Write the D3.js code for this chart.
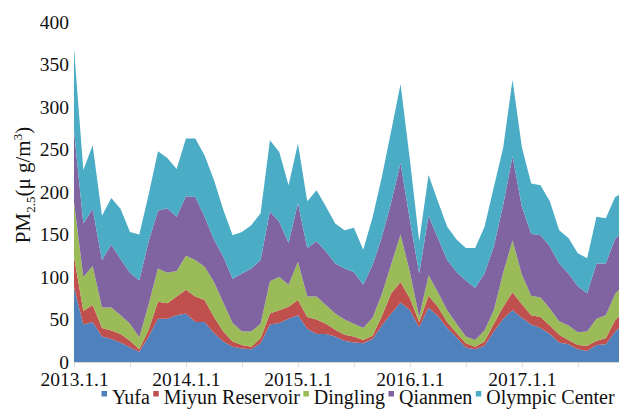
<!DOCTYPE html>
<html>
<head>
<meta charset="utf-8">
<script src="https://cdn.jsdelivr.net/npm/d3@7"></script>
<style>
  html, body { margin: 0; padding: 0; background: #fff; }
  svg { display: block; }
  text { font-family: "Liberation Serif", "Times New Roman", serif; fill: #111; }
</style>
</head>
<body>
<svg id="chart" width="619" height="416"></svg>
<script>
// Monthly PM2.5 concentrations at five Beijing monitoring stations
const months = [
  "2013-01","2013-02","2013-03","2013-04","2013-05","2013-06","2013-07","2013-08","2013-09","2013-10","2013-11","2013-12",
  "2014-01","2014-02","2014-03","2014-04","2014-05","2014-06","2014-07","2014-08","2014-09","2014-10","2014-11","2014-12",
  "2015-01","2015-02","2015-03","2015-04","2015-05","2015-06","2015-07","2015-08","2015-09","2015-10","2015-11","2015-12",
  "2016-01","2016-02","2016-03","2016-04","2016-05","2016-06","2016-07","2016-08","2016-09","2016-10","2016-11","2016-12",
  "2017-01","2017-02","2017-03","2017-04","2017-05","2017-06","2017-07","2017-08","2017-09","2017-10","2017-11","2017-12"
];

const seriesNames = ["Yufa", "Miyun Reservoir", "Dingling", "Qianmen", "Olympic Center"];

const yufa = [88,44,47,30,27,23,17,12,30,51,51,55, 57,47,47,34,24,18,16,15,22,44,46,51,
              55,39,33,33,30,25,23,22,27,43,57,70, 61,41,64,54,40,29,17,15,19,36,51,61,
              52,44,40,33,23,21,15,13,20,21,36,45];
const miyun = [36,16,20,10,10,10,8,3,8,20,18,22, 28,30,26,19,12,6,4,3,6,13,15,14,
               18,14,17,12,8,7,7,4,4,11,24,24, 14,6,14,11,7,5,5,3,5,9,14,21,
               16,11,13,10,9,5,5,6,5,7,13,15];
const dingling = [64,40,46,24,27,22,20,14,30,39,36,30, 40,43,39,41,34,22,16,18,17,38,39,26,
                  45,24,27,22,19,18,15,14,21,26,34,56, 31,6,24,17,14,11,8,8,13,16,40,61,
                  35,23,23,20,16,17,15,17,26,27,31,32];
const qianmen = [84,63,67,56,74,66,60,67,74,68,76,64, 70,74,59,50,54,52,68,74,75,82,65,49,
                 69,57,65,63,59,60,61,51,62,67,73,84, 61,51,70,64,59,61,66,61,67,75,80,99,
                 80,73,73,73,68,61,54,45,65,61,65,63];
const olympic = [97,63,75,52,55,59,48,54,55,70,59,56, 68,69,72,70,55,51,49,51,55,84,82,68,
                 70,55,60,53,47,45,52,41,56,71,84,93, 71,38,48,43,39,38,38,47,55,70,67,90,
                 70,59,59,53,39,42,39,41,55,53,49,45];

const yTicks = [0, 50, 100, 150, 200, 250, 300, 350, 400];
const xTickLabels = ["2013.1.1", "2014.1.1", "2015.1.1", "2016.1.1", "2017.1.1"];

const colors = ["#4F81BD", "#C0504D", "#9BBB59", "#8064A2", "#4BACC6"];

// Layout
const plotLeft = 74, monthStep = 9.33, plotTop = 22, plotBottom = 362;

const svg = d3.select("#chart");

const rows = months.map((m, i) => ({
  month: m,
  "Yufa": yufa[i],
  "Miyun Reservoir": miyun[i],
  "Dingling": dingling[i],
  "Qianmen": qianmen[i],
  "Olympic Center": olympic[i]
}));

const x = d3.scaleLinear()
  .domain([0, months.length - 1])
  .range([plotLeft, plotLeft + monthStep * (months.length - 1)]);

const y = d3.scaleLinear()
  .domain([0, 400])
  .range([plotBottom, plotTop]);

const color = d3.scaleOrdinal().domain(seriesNames).range(colors);

const stacked = d3.stack().keys(seriesNames)(rows);

const area = d3.area()
  .x((d, i) => x(i))
  .y0(d => y(d[0]))
  .y1(d => y(d[1]));

svg.append("g")
  .selectAll("path")
  .data(stacked)
  .join("path")
  .attr("fill", d => color(d.key))
  .attr("d", area);

// X axis: tick marks every half year, labels each January
const halfYearIdx = months.map((m, i) => i).filter(i => /-(01|07)$/.test(months[i]));
const labelByIdx = new Map(xTickLabels.map(lbl => {
  const p = lbl.split(".");
  const key = p[0] + "-" + String(p[1]).padStart(2, "0");
  return [months.indexOf(key), lbl];
}));

const xAxis = svg.append("g")
  .attr("transform", `translate(0,${plotBottom})`)
  .call(d3.axisBottom(x)
    .tickValues(halfYearIdx)
    .tickSize(5)
    .tickSizeOuter(0)
    .tickPadding(5)
    .tickFormat(i => labelByIdx.get(i) || ""));
xAxis.select(".domain").attr("stroke", "#d9d9d9");
xAxis.selectAll(".tick line").attr("stroke", "#d9d9d9");
xAxis.selectAll("text")
  .style("font-family", '"Liberation Serif", "Times New Roman", serif')
  .style("font-size", "19.5px")
  .attr("fill", "#111");

// Y axis: labels only
const yAxis = svg.append("g")
  .attr("transform", `translate(${plotLeft},0)`)
  .call(d3.axisLeft(y).tickValues(yTicks).tickSize(0).tickPadding(5));
yAxis.select(".domain").remove();
yAxis.selectAll("text")
  .style("font-family", '"Liberation Serif", "Times New Roman", serif')
  .style("font-size", "19.5px")
  .attr("fill", "#111");

// Y axis title: PM2.5 (μg/m³)
const yTitle = svg.append("text")
  .attr("transform", "translate(30,185) rotate(-90)")
  .attr("text-anchor", "middle")
  .style("font-size", "21px");
yTitle.append("tspan").text("PM");
yTitle.append("tspan").text("2.5").style("font-size", "13px").attr("dy", 5);
yTitle.append("tspan").text("(\u03BC g/m").attr("dy", -5);
yTitle.append("tspan").text("3").style("font-size", "13px").attr("dy", -8);
yTitle.append("tspan").text(")").attr("dy", 8);

// Legend
const legend = svg.append("g").attr("transform", "translate(101.5,0)");
let cursor = 0;
seriesNames.forEach((name, i) => {
  const g = legend.append("g").attr("transform", `translate(${cursor},0)`);
  g.append("rect")
    .attr("x", 0).attr("y", 391)
    .attr("width", 5.5).attr("height", 5.5)
    .attr("fill", colors[i]);
  const t = g.append("text")
    .attr("x", 10.5).attr("y", 404)
    .style("font-size", "20px")
    .text(name);
  cursor += 10.5 + t.node().getComputedTextLength() + 3.5;
});
</script>
</body>
</html>
